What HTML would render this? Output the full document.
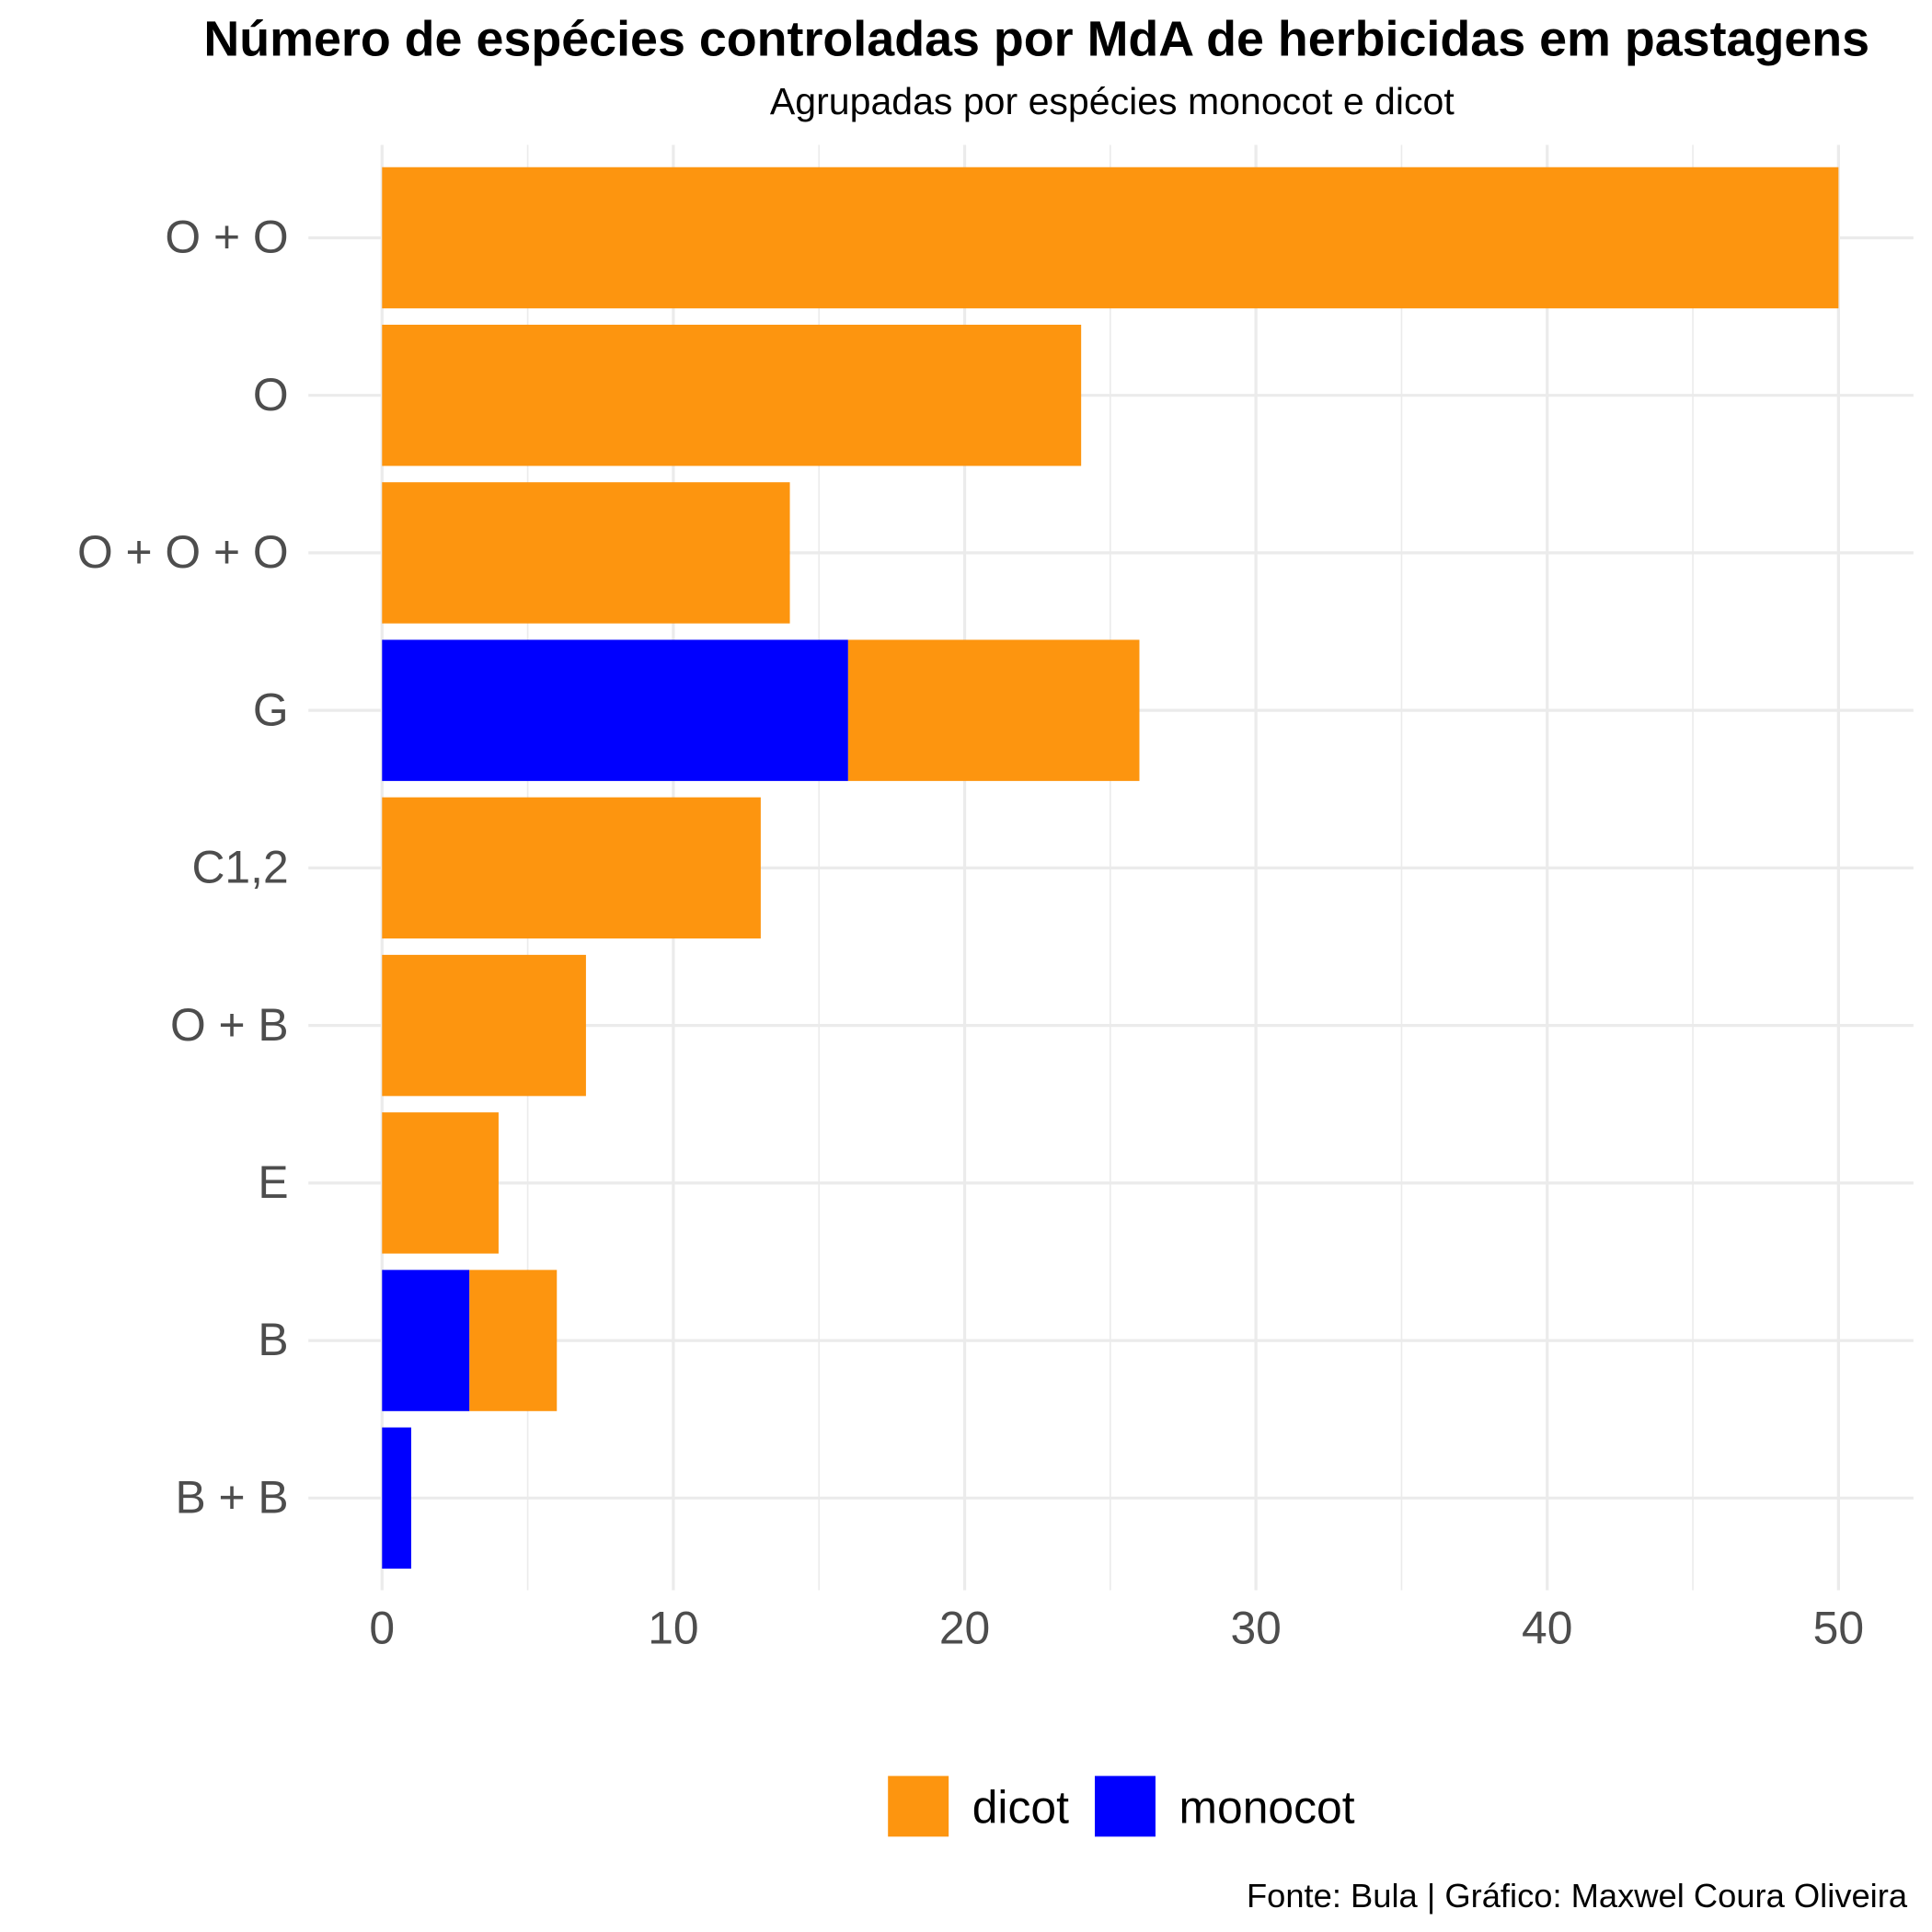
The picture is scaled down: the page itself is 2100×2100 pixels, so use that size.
<!DOCTYPE html>
<html><head><meta charset="utf-8"><style>html,body{margin:0;padding:0;background:#fff}svg{display:block}</style></head>
<body>
<svg width="2100" height="2100" viewBox="0 0 1560 1560" xmlns="http://www.w3.org/2000/svg" font-family="Liberation Sans, Arial, sans-serif">
<rect width="1560" height="1560" fill="#fff"/>
<text x="837" y="45" text-anchor="middle" font-size="40" font-weight="bold" fill="#000">Número de espécies controladas por MdA de herbicidas em pastagens</text>
<text x="898" y="92" text-anchor="middle" font-size="30.5" fill="#000">Agrupadas por espécies monocot e dicot</text>
<g id="grid"></g>
<g id="bars"></g>
<g id="labels"></g>
<g>
<rect x="717" y="1434" width="49" height="49" fill="#FD950F"/>
<text x="785" y="1472" font-size="37" fill="#000">dicot</text>
<rect x="884" y="1434" width="49" height="49" fill="#0000FF"/>
<text x="952" y="1472" font-size="37" fill="#000">monocot</text>
</g>
<text x="1540" y="1540" text-anchor="end" font-size="27" fill="#000">Fonte: Bula | Gráfico: Maxwel Coura Oliveira</text>
<script>
const categories = ["O + O","O","O + O + O","G","C1,2","O + B","E","B","B + B"];
const monocot = [0,0,0,16,0,0,0,3,1];
const dicot = [50,24,14,10,13,7,4,3,0];
const xTicks = [0,10,20,30,40,50];
const xMinor = [5,15,25,35,45];
const NS="http://www.w3.org/2000/svg";
const x = v => 308.5 + v*23.52;
const y = i => 192 + i*127.2;
const bh = 114;
function mk(tag, attrs, parent){const e=document.createElementNS(NS,tag);for(const k in attrs)e.setAttribute(k,attrs[k]);parent.appendChild(e);return e;}
const grid=document.getElementById('grid'), bars=document.getElementById('bars'), labels=document.getElementById('labels');
xMinor.forEach(v=>{const l=mk('line',{x1:x(v),x2:x(v),y1:117,y2:1284,stroke:'#ebebeb','stroke-width':1.2},grid);

});
xTicks.forEach(v=>{const l=mk('line',{x1:x(v),x2:x(v),y1:117,y2:1284,stroke:'#ebebeb','stroke-width':2.4},grid);


const t=mk('text',{x:x(v),y:1327,'text-anchor':'middle','font-size':37,fill:'#4d4d4d'},labels);t.textContent=v;

});
categories.forEach((c,i)=>{const l=mk('line',{x1:249,x2:1545,y1:y(i),y2:y(i),stroke:'#ebebeb','stroke-width':2.4},grid);


const t=mk('text',{x:233,y:y(i)+12,'text-anchor':'end','font-size':37,fill:'#4d4d4d'},labels);t.textContent=c;


if(monocot[i]>0){const r=mk('rect',{x:x(0),y:y(i)-bh/2,width:x(monocot[i])-x(0),height:bh,fill:'#0000FF'},bars);

}
if(dicot[i]>0){const r=mk('rect',{x:x(monocot[i]),y:y(i)-bh/2,width:x(monocot[i]+dicot[i])-x(monocot[i]),height:bh,fill:'#FD950F'},bars);

}
});
</script>
</svg>
</body></html>
